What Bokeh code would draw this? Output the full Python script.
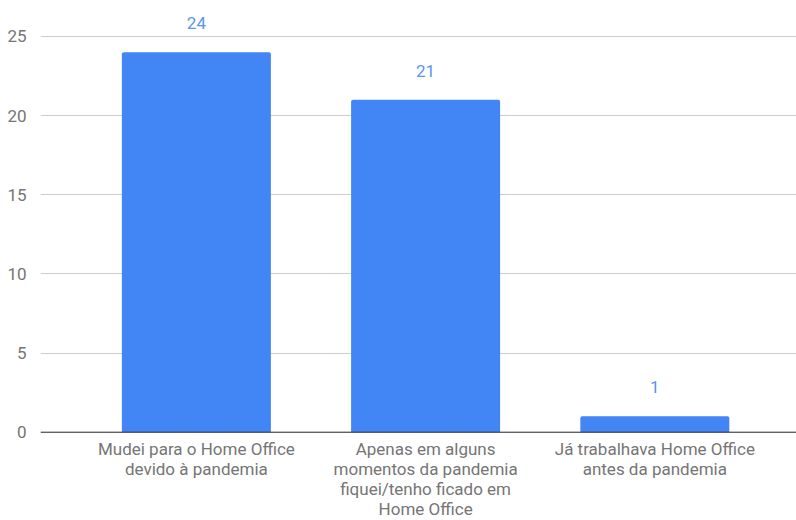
from bokeh.plotting import figure
from bokeh.models import ColumnDataSource, FixedTicker, Range1d, Span
from bokeh.core.properties import value
from bokeh.embed import file_html
from bokeh.resources import INLINE

categories = [
    "Mudei para o Home Office\ndevido à pandemia",
    "Apenas em alguns\nmomentos da pandemia\nfiquei/tenho ficado em\nHome Office",
    "Já trabalhava Home Office\nantes da pandemia",
]
values = [24, 21, 1]
y_ticks = [0, 5, 10, 15, 20, 25]

xs = list(range(len(categories)))
src = ColumnDataSource(dict(x=xs, top=values, label=[str(v) for v in values]))
cat_src = ColumnDataSource(dict(x=xs, y=[0] * len(xs), label=categories))

p = figure(width=796, height=520, output_backend="svg", toolbar_location=None,
           x_range=Range1d(-0.680, 2.618), y_range=Range1d(-5.578, 27.27),
           x_axis_location=None,
           min_border_left=40, min_border_right=0, min_border_top=0, min_border_bottom=0)
p.outline_line_color = None
p.background_fill_color = "white"
p.border_fill_color = "white"

p.vbar(x="x", top="top", width=0.65, source=src, fill_color="#4285F4", line_color=None,
       border_radius=(2, 2, 0, 0))
p.text(x="x", y="top", text="label", source=src, text_align="center",
       text_baseline="alphabetic", y_offset=-29, text_color="#5a95f5",
       text_font=value("Roboto"), text_font_size="17px")

# category labels under the baseline
p.text(x="x", y="y", text="label", source=cat_src, text_align="center",
       text_baseline="top", y_offset=7, text_color="#757575",
       text_font=value("Roboto"), text_font_size="17px", text_line_height=1.0)

# baseline
p.add_layout(Span(location=0, dimension="width", line_color="#333333", line_width=1))

# y axis
p.yaxis.ticker = FixedTicker(ticks=y_ticks)
p.yaxis.axis_line_color = None
p.yaxis.major_tick_line_color = None
p.yaxis.minor_tick_line_color = None
p.yaxis.major_label_standoff = 8
p.yaxis.major_label_text_font = "Roboto"
p.yaxis.major_label_text_font_size = "17px"
p.yaxis.major_label_text_color = "#757575"

p.ygrid.ticker = FixedTicker(ticks=y_ticks)
p.ygrid.grid_line_color = "#cccccc"
p.xgrid.grid_line_color = None

open("out.html", "w").write(file_html(p, INLINE))
